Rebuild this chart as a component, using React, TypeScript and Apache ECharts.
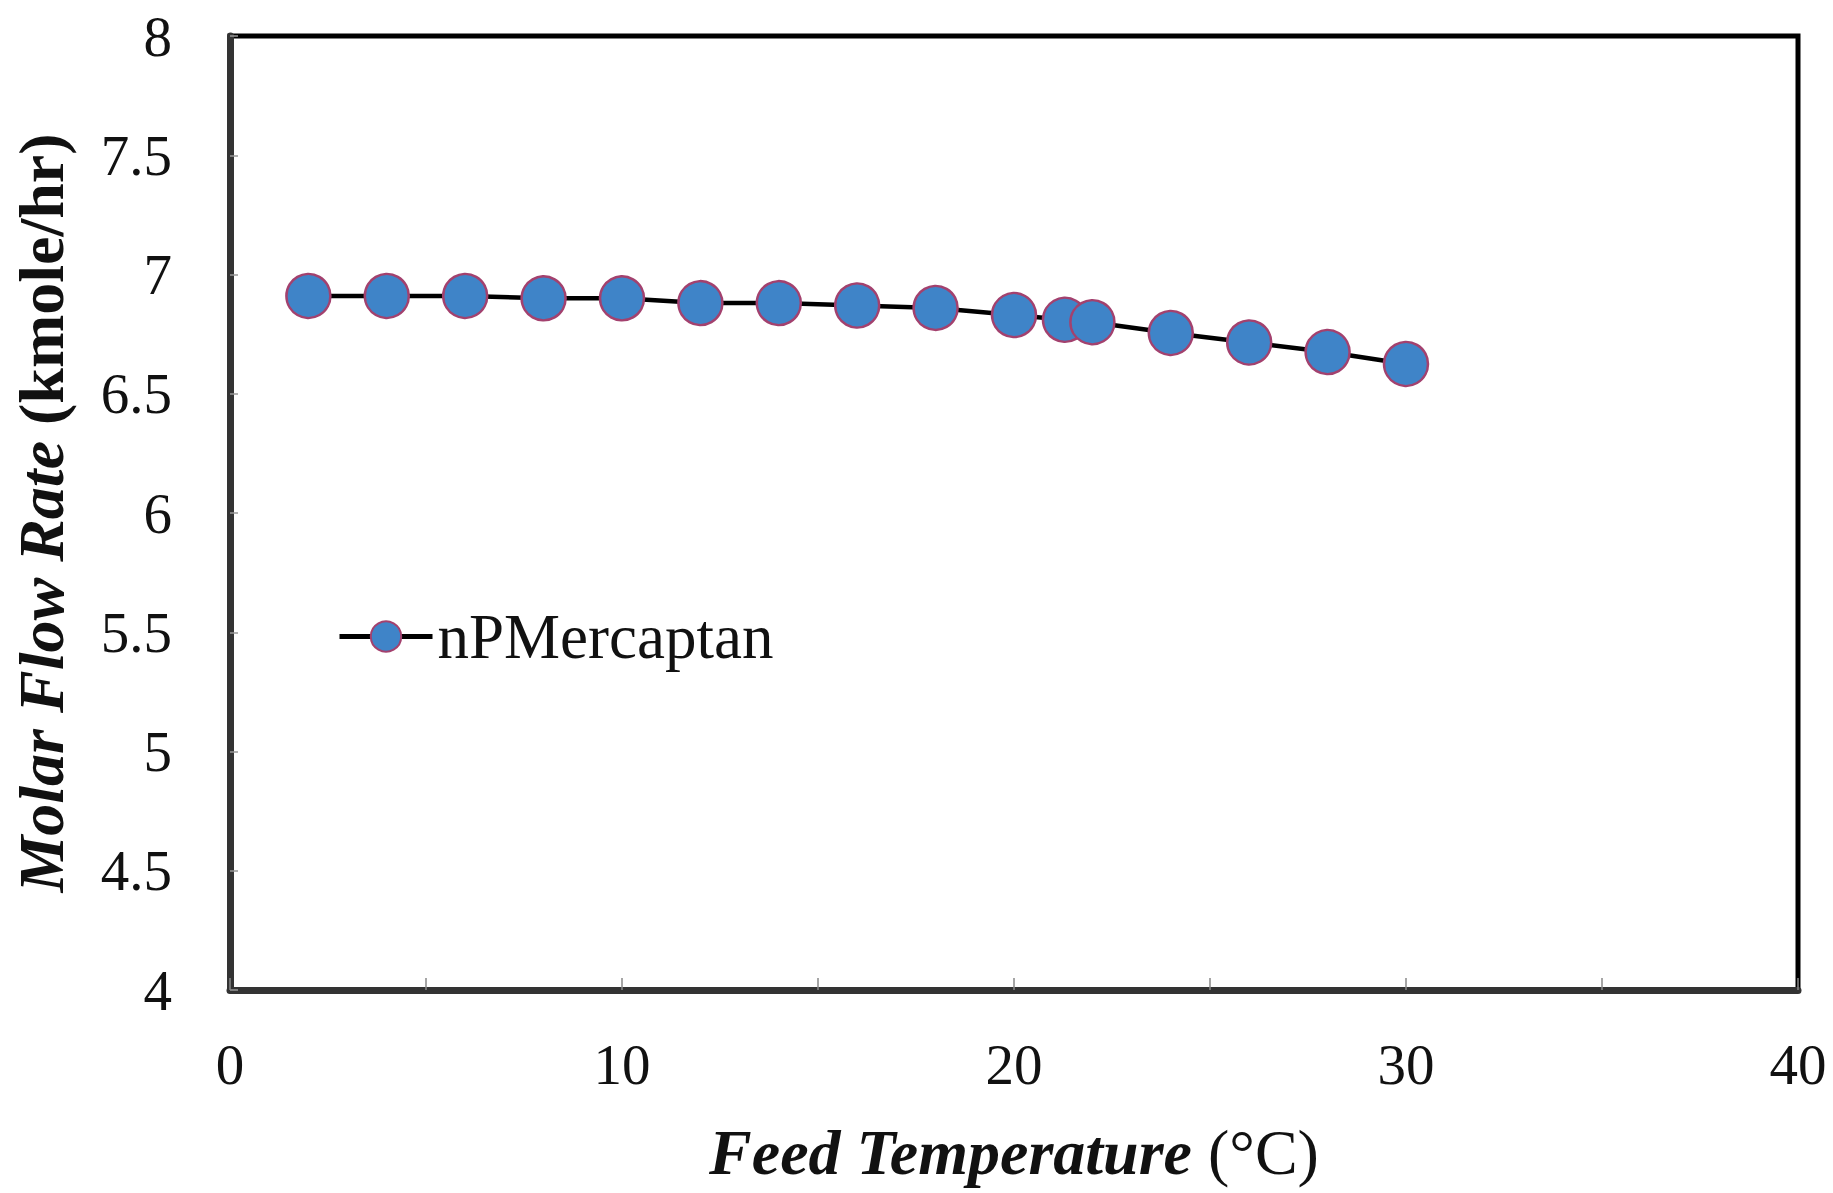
import React, { useEffect, useRef } from "react";
import * as echarts from "echarts";

const temperatures = [2, 4, 6, 8, 10, 12, 14, 16, 18, 20, 21.3, 22, 24, 26, 28, 30];
const flowRates = [6.91, 6.91, 6.91, 6.9, 6.9, 6.88, 6.88, 6.87, 6.86, 6.83, 6.81, 6.8, 6.755, 6.715, 6.675, 6.625];
const seriesName = "nPMercaptan";
const xTitle = "Feed Temperature";
const xUnit = "(°C)";
const yTitle = "Molar Flow Rate";
const yUnit = "(kmole/hr)";

const FONT = "'Liberation Serif', 'Times New Roman', serif";

export default function App() {
  const ref = useRef<HTMLDivElement>(null);
  useEffect(() => {
    if (!ref.current) return;
    const chart = echarts.init(ref.current, null, { renderer: "svg" });
    chart.setOption({
      animation: false,
      backgroundColor: "#ffffff",
      textStyle: { fontFamily: FONT },
      grid: {
        left: 230,
        right: 35,
        top: 36,
        bottom: 203,
        show: true,
        borderColor: "#000",
        borderWidth: 5,
        backgroundColor: "transparent",
      },
      legend: {
        left: 332,
        top: 600,
        itemWidth: 93,
        itemHeight: 38,
        itemGap: 5,
        lineStyle: { color: "#000", width: 5 },
        textStyle: { fontSize: 63, color: "#111", fontFamily: FONT },
        data: [seriesName],
      },
      xAxis: {
        type: "value",
        min: 0,
        max: 40,
        interval: 5,
        name: `{a|${xTitle}}{b| ${xUnit}}`,
        nameLocation: "middle",
        nameGap: 130,
        nameTextStyle: {
          rich: {
            a: { fontSize: 64, fontWeight: "bold", fontStyle: "italic", fontFamily: FONT, color: "#111" },
            b: { fontSize: 64, fontFamily: FONT, color: "#111" },
          },
        },
        axisLine: { show: true, lineStyle: { color: "#333", width: 7 } },
        axisTick: { show: true, inside: true, length: 12, lineStyle: { color: "#888", width: 1.5 } },
        axisLabel: {
          fontSize: 57,
          color: "#111",
          fontFamily: FONT,
          margin: 46,
          formatter: (v: number) => (v % 10 === 0 ? String(v) : ""),
        },
        splitLine: { show: false },
      },
      yAxis: {
        type: "value",
        min: 4,
        max: 8,
        interval: 0.5,
        name: `{a|${yTitle}}{b| ${yUnit}}`,
        nameLocation: "middle",
        nameRotate: 90,
        nameGap: 157,
        nameTextStyle: {
          rich: {
            a: { fontSize: 64, fontWeight: "bold", fontStyle: "italic", fontFamily: FONT, color: "#111" },
            b: { fontSize: 64, fontWeight: "bold", fontFamily: FONT, color: "#111" },
          },
        },
        axisLine: { show: true, lineStyle: { color: "#333", width: 7 } },
        axisTick: { show: true, inside: true, length: 8, lineStyle: { color: "#999", width: 1.5 } },
        axisLabel: { fontSize: 57, color: "#111", fontFamily: FONT, margin: 58 },
        splitLine: { show: false },
      },
      series: [
        {
          name: seriesName,
          type: "line",
          data: temperatures.map((t, i) => [t, flowRates[i]]),
          symbol: "circle",
          symbolSize: 44,
          showSymbol: true,
          lineStyle: { color: "#000", width: 4.5 },
          itemStyle: { color: "#3f84c8", borderColor: "#a3416e", borderWidth: 2.5 },
        },
      ],
    });
    return () => chart.dispose();
  }, []);
  return (
    <div
      ref={ref}
      style={{ position: "fixed", left: 0, top: 0, width: 1833, height: 1193, background: "#fff" }}
    />
  );
}
